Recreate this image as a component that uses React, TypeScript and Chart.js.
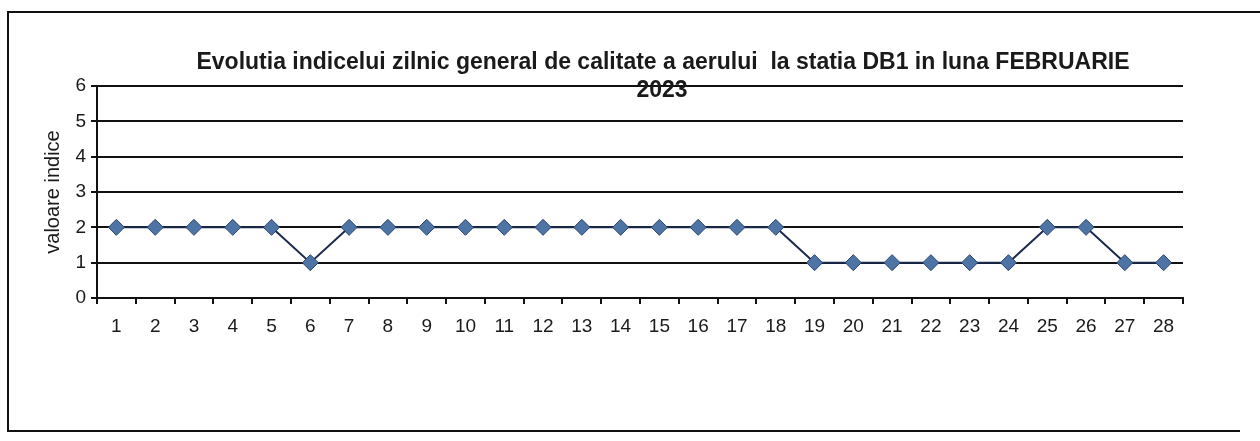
import React, { useEffect, useRef } from "react";
import { Chart, registerables } from "chart.js";

Chart.register(...registerables);

const days: string[] = [
  "1", "2", "3", "4", "5", "6", "7", "8", "9", "10", "11", "12", "13", "14",
  "15", "16", "17", "18", "19", "20", "21", "22", "23", "24", "25", "26", "27", "28",
];
const indexValues: number[] = [
  2, 2, 2, 2, 2, 1, 2, 2, 2, 2, 2, 2, 2, 2,
  2, 2, 2, 2, 1, 1, 1, 1, 1, 1, 2, 2, 1, 1,
];
const titleLines: string[] = [
  "Evolutia indicelui zilnic general de calitate a aerului  la statia DB1 in luna FEBRUARIE",
  "2023",
];
const yAxisTitle = "valoare indice";

const FONT = "'Liberation Sans', Arial, sans-serif";

const framePlugin = {
  id: "frame",
  afterDraw(chart: any) {
    const ctx = chart.ctx;
    ctx.save();
    ctx.strokeStyle = "#111";
    ctx.lineWidth = 2;
    ctx.beginPath();
    ctx.moveTo(1260, 12);
    ctx.lineTo(8, 12);
    ctx.lineTo(8, 431);
    ctx.lineTo(1240, 431);
    ctx.stroke();
    ctx.fillStyle = "#1a1a1a";
    ctx.font = `bold 23px ${FONT}`;
    ctx.textAlign = "center";
    ctx.textBaseline = "middle";
    ctx.fillText(titleLines[0], 663, 63);
    ctx.fillText(titleLines[1], 662, 91);
    ctx.restore();
  },
};

export default function App() {
  const ref = useRef<HTMLCanvasElement | null>(null);
  useEffect(() => {
    document.body.style.margin = "0";
    const chart = new Chart(ref.current as HTMLCanvasElement, {
      type: "line",
      data: {
        labels: days,
        datasets: [
          {
            data: indexValues,
            borderColor: "#1b2a4c",
            borderWidth: 2,
            pointStyle: "rectRot",
            pointRadius: 8,
            pointBackgroundColor: "#4e74a6",
            pointBorderColor: "#2b446e",
            pointBorderWidth: 1,
            tension: 0,
          },
        ],
      },
      options: {
        responsive: false,
        animation: false,
        layout: { padding: { top: 86, right: 77, left: 0, bottom: 0 } },
        plugins: {
          legend: { display: false },
          title: { display: false },
          tooltip: { enabled: false },
        },
        scales: {
          x: {
            offset: true,
            afterFit(scale: any) {
              scale.height = 143;
            },
            grid: {
              offset: true,
              drawOnChartArea: false,
              drawTicks: true,
              tickLength: 6,
              color: "#111",
              lineWidth: 2,
            },
            border: { display: true, color: "#111", width: 2 },
            ticks: {
              color: "#1a1a1a",
              font: { family: FONT, size: 19 },
              padding: 11,
              maxRotation: 0,
              autoSkip: false,
            },
          },
          y: {
            min: 0,
            max: 6,
            afterFit(scale: any) {
              scale.width = 97;
            },
            grid: {
              color: "#111",
              lineWidth: 2,
              drawTicks: true,
              tickLength: 6,
            },
            border: { display: true, color: "#111", width: 2 },
            ticks: {
              stepSize: 1,
              color: "#1a1a1a",
              font: { family: FONT, size: 19 },
              padding: 5,
            },
            title: {
              display: true,
              text: yAxisTitle,
              color: "#1a1a1a",
              font: { family: FONT, size: 20 },
              padding: { top: 41, bottom: 0 },
            },
          },
        },
      },
      plugins: [framePlugin],
    });
    return () => chart.destroy();
  }, []);
  return (
    <div style={{ width: 1260, height: 441, background: "#fff" }}>
      <canvas ref={ref} width={1260} height={441} />
    </div>
  );
}
